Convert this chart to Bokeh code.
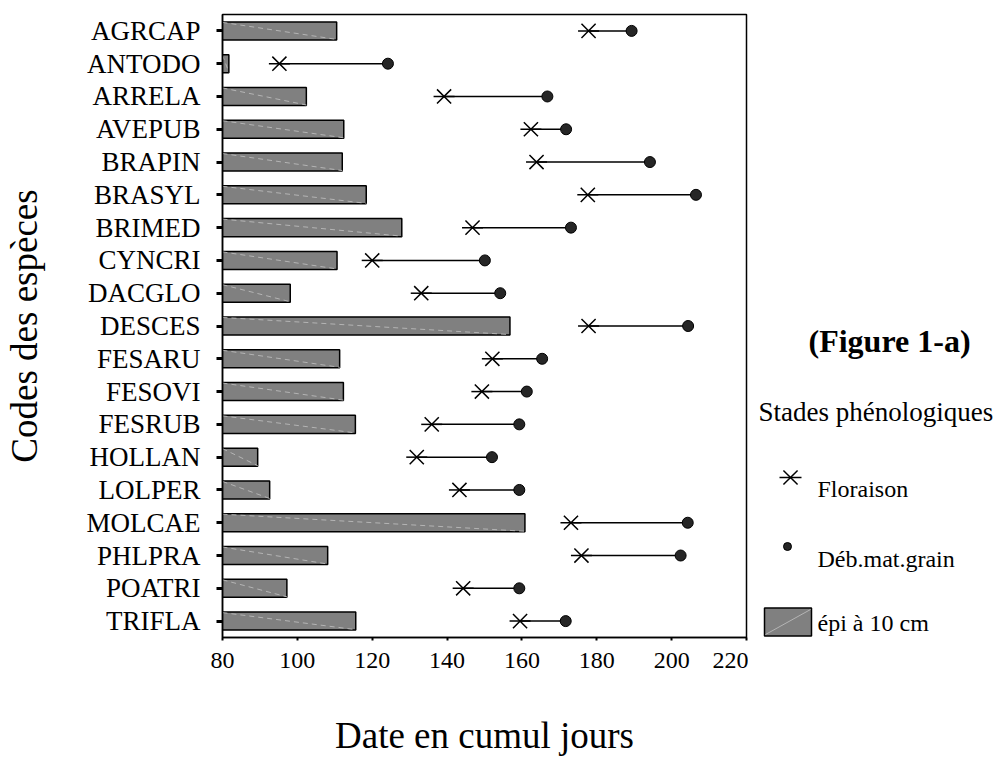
from bokeh.plotting import figure
from bokeh.models import Range1d, FixedTicker, ColumnDataSource
from bokeh.layouts import row
from bokeh.embed import file_html
from bokeh.resources import INLINE
from bokeh.core.properties import value

codes = ["AGRCAP", "ANTODO", "ARRELA", "AVEPUB", "BRAPIN", "BRASYL", "BRIMED",
         "CYNCRI", "DACGLO", "DESCES", "FESARU", "FESOVI", "FESRUB", "HOLLAN",
         "LOLPER", "MOLCAE", "PHLPRA", "POATRI", "TRIFLA"]
epi_10cm = [110.5, 81.7, 102.4, 112.4, 112.0, 118.4, 127.9, 110.6, 98.1, 156.8,
            111.3, 112.3, 115.5, 89.4, 92.6, 160.8, 108.1, 97.2, 115.6]
floraison = [177.8, 95.2, 139.2, 162.4, 163.9, 177.6, 146.8, 120.0, 133.1, 177.8,
             152.1, 149.3, 135.9, 131.9, 143.3, 173.1, 175.9, 144.3, 159.5]
deb_mat_grain = [189.3, 124.2, 166.8, 171.8, 194.2, 206.5, 173.1, 150.1, 154.2, 204.4,
                 165.4, 161.3, 159.3, 152.0, 159.3, 204.3, 202.4, 159.3, 171.7]
x_ticks = [80, 100, 120, 140, 160, 180, 200, 220]

FONT = "Liberation Serif"
H = 758
TOP, BOTTOM = 14, 121
n = len(codes)
ypos = [n - 1 - i for i in range(n)]
half = 0.26
src = ColumnDataSource(dict(
    y=ypos, code=codes, epi=epi_10cm, flor=floraison, deb=deb_mat_grain,
    ytop=[v + half for v in ypos], ybot=[v - half for v in ypos],
    base=[x_ticks[0]] * n,
))

p = figure(width=748, height=H, x_range=Range1d(x_ticks[0], x_ticks[-1]),
           y_range=Range1d(-0.5, n - 0.5), output_backend="svg",
           toolbar_location=None, min_border_left=222, min_border_right=2,
           min_border_top=TOP, min_border_bottom=BOTTOM)
p.outline_line_color = "black"
p.outline_line_width = 1.5
p.grid.visible = False
p.background_fill_color = "white"

# bars (épi à 10 cm)
p.hbar(y="y", left="base", right="epi", height=0.55, source=src,
       fill_color="#808080", line_color="black", line_width=1.5)
p.segment(x0="base", y0="ytop", x1="epi", y1="ybot", source=src,
          line_color="#b4b4b4", line_width=1, line_dash="5 4")

# floraison -> debut maturation grain
p.segment(x0="flor", y0="y", x1="deb", y1="y", source=src,
          line_color="black", line_width=1.5)
p.scatter(x="flor", y="y", source=src, marker="x", size=20,
          line_color="black", line_width=1.5)
p.scatter(x="flor", y="y", source=src, marker="dash", size=21,
          line_color="black", line_width=1.5)
p.scatter(x="deb", y="y", source=src, marker="circle", size=11,
          fill_color="#262626", line_color="black", line_width=1)

xa = p.xaxis[0]
xa.ticker = FixedTicker(ticks=x_ticks)
xa.major_label_text_font = FONT
xa.major_label_text_font_size = "24px"
xa.major_label_text_color = "black"
xa.major_tick_in = 0
xa.major_tick_out = 3
xa.major_tick_line_width = 2
xa.minor_tick_line_color = None
xa.axis_line_width = 1.5
xa.major_label_standoff = 12
xa.axis_label = "Date en cumul jours"
xa.axis_label_text_font = FONT
xa.axis_label_text_font_size = "37px"
xa.axis_label_text_font_style = "normal"
xa.axis_label_text_color = "black"
xa.axis_label_standoff = 44

ya = p.yaxis[0]
ya.ticker = FixedTicker(ticks=ypos)
ya.major_label_overrides = {y: c for y, c in zip(ypos, codes)}
ya.major_label_text_font = FONT
ya.major_label_text_font_size = "27px"
ya.major_label_text_color = "black"
ya.major_tick_in = 0
ya.major_tick_out = 6
ya.major_tick_line_width = 3
ya.minor_tick_line_color = None
ya.axis_line_width = 1.5
ya.major_label_standoff = 16
ya.axis_label = "Codes des espèces"
ya.axis_label_text_font = FONT
ya.axis_label_text_font_size = "37px"
ya.axis_label_text_font_style = "normal"
ya.axis_label_text_color = "black"
ya.axis_label_standoff = 39

# legend panel: its frame is aligned with the main frame (page y 14..637),
# so the y range maps page pixels directly
LW = 252
q = figure(width=LW, height=H, x_range=Range1d(0, LW),
           y_range=Range1d(H - BOTTOM, TOP),
           output_backend="svg", toolbar_location=None, min_border_left=0,
           min_border_right=0, min_border_top=TOP, min_border_bottom=BOTTOM)
q.axis.visible = False
q.grid.visible = False
q.outline_line_color = None

q.text(x=[60], y=[340], text=["(Figure 1-a)"], text_font=value(FONT),
       text_font_size="32px", text_font_style="bold", text_baseline="alphabetic",
       text_color="black")
q.text(x=[10], y=[411], text=["Stades phénologiques"], text_font=value(FONT),
       text_font_size="27px", text_baseline="alphabetic", text_color="black")
q.text(x=[69, 69, 69], y=[488, 558, 622],
       text=["Floraison", "Déb.mat.grain", "épi à 10 cm"], text_font=value(FONT),
       text_font_size="24px", text_baseline="alphabetic", text_color="black")
q.scatter(x=[42], y=[477], marker="x", size=20, line_color="black", line_width=1.5)
q.scatter(x=[42], y=[477], marker="dash", size=22, line_color="black", line_width=1.5)
q.scatter(x=[39], y=[546], marker="circle", size=8, fill_color="#262626",
          line_color="black", line_width=1)
q.rect(x=[39.5], y=[621.5], width=[47], height=[28], fill_color="#808080",
       line_color="black", line_width=1.5)
q.segment(x0=[17], y0=[634], x1=[62], y1=[609], line_color="#b4b4b4", line_width=1)

layout = row(p, q)
open("out.html", "w").write(file_html(layout, INLINE))
